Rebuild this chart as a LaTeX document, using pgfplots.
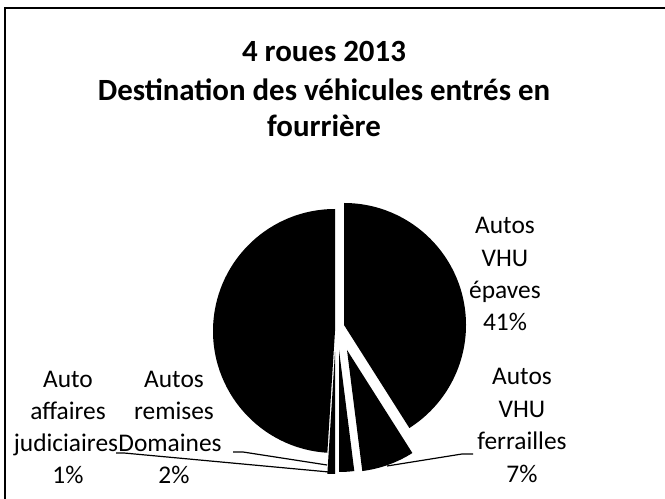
\documentclass[border=0pt]{standalone}
\usepackage{pgfplots}
\pgfplotsset{compat=1.18}
\usepackage{pgfplotstable}
\usepackage{fontspec}
\setmainfont{Carlito}

% slice value (%), slice apex x, apex y (exploded positions)
\pgfplotstableread{
label value cx cy
epaves 41 344 174
ferrailles 7 347 149
domaines 2 339 149
judiciaires 1 335 147
autres 49 335 168
}\piedata

\newcommand\lbl[3]{\node[anchor=base, inner sep=0pt, font=\fontsize{25.5}{30}\selectfont] at (axis cs:#1,#2) {#3};}
\newcommand\ttl[3]{\node[anchor=base, inner sep=0pt, font=\fontsize{31}{36}\selectfont\bfseries] at (axis cs:#1,#2) {#3};}

\begin{document}
\begin{tikzpicture}
\useasboundingbox (0,0) rectangle (665bp,499bp);
\begin{axis}[
  at={(0,0)}, anchor=south west,
  scale only axis, width=665bp, height=499bp,
  xmin=0, xmax=665, ymin=0, ymax=499,
  enlargelimits=false, hide axis, clip=false,
]
\xdef\curangle{90}
\foreach \i in {0,...,4}{
  \pgfplotstablegetelem{\i}{value}\of\piedata \let\v=\pgfplotsretval
  \pgfplotstablegetelem{\i}{cx}\of\piedata \let\cx=\pgfplotsretval
  \pgfplotstablegetelem{\i}{cy}\of\piedata \let\cy=\pgfplotsretval
  \pgfmathsetmacro\endangle{\curangle-3.6*\v}
  \edef\temp{\noexpand\fill[black] (axis cs:\cx,\cy) -- ++(\curangle:122bp) arc[start angle=\curangle, end angle=\endangle, radius=122bp] -- cycle;}
  \temp
  \xdef\curangle{\endangle}
}
% frame
\draw[line width=2bp] (axis cs:5,-10) -- (axis cs:5,491) -- (axis cs:680,491);
% title
\ttl{324}{437}{4 roues 2013}
\ttl{324}{398}{Destination des véhicules entrés en}
\ttl{324}{362}{fourrière}
% labels
\lbl{505}{265}{Autos}
\lbl{505}{232}{VHU}
\lbl{505}{200}{épaves}
\lbl{505}{168}{41\%}
\lbl{522}{114}{Autos}
\lbl{522}{81}{VHU}
\lbl{522}{49}{ferrailles}
\lbl{522}{17}{7\%}
\lbl{68}{111}{Auto}
\lbl{68}{79}{affaires}
\lbl{66}{47}{judiciaires}
\lbl{68}{16}{1\%}
\lbl{174}{111}{Autos}
\lbl{174}{79}{remises}
\lbl{170}{47}{Domaines}
\lbl{174}{16}{2\%}
% leader lines
\draw[line width=1.2bp] (axis cs:473,45) -- (axis cs:462,45) -- (axis cs:387,33);
\draw[line width=1.2bp] (axis cs:233,47) -- (axis cs:243,47) -- (axis cs:327,34);
\draw[line width=1.2bp] (axis cs:116,46) -- (axis cs:124,46) -- (axis cs:329,27);
\end{axis}
\end{tikzpicture}
\end{document}
